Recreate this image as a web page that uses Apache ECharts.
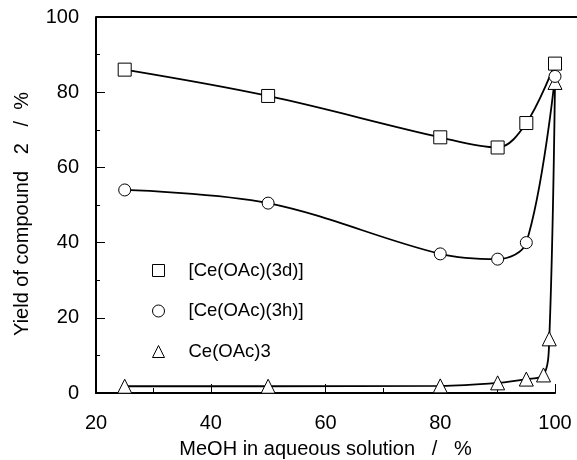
<!DOCTYPE html>
<html>
<head>
<meta charset="utf-8">
<script src="https://cdn.jsdelivr.net/npm/echarts@6/dist/echarts.min.js"></script>
<style>html,body{margin:0;padding:0;background:#fff}#c{width:577px;height:460px}</style>
</head>
<body>
<div id="c"></div>
<script>
// Data
const xTicks = [20, 40, 60, 80, 100];
const yTicks = [0, 20, 40, 60, 80, 100];

const seriesNames = ['[Ce(OAc)(3d)]', '[Ce(OAc)(3h)]', 'Ce(OAc)3'];

const x3d = [25, 50, 80, 90, 95, 100];
const y3d = [86, 79, 68, 65.3, 71.8, 87.6];

const x3h = [25, 50, 80, 90, 95, 100];
const y3h = [54, 50.5, 37, 35.6, 40, 84.2];

const xCe = [25, 50, 80, 90, 95, 98, 99, 100];
const yCe = [1.8, 1.8, 1.9, 2.7, 3.7, 4.8, 14.4, 82.6];

const zip = (xs, ys) => xs.map((x, i) => [x, ys[i]]);

const chart = echarts.init(document.getElementById('c'), null, {renderer: 'canvas'});
const FONT = 'Liberation Sans';

function lineSeries(name, data, symbol, size) {
  return {
    name: name,
    type: 'line',
    data: data,
    smooth: 0.35,
    symbol: symbol,
    symbolSize: size,
    showAllSymbol: true,
    lineStyle: {color: '#000', width: 1.8},
    itemStyle: {color: '#fff', borderColor: '#000', borderWidth: 1},
    emphasis: {disabled: true},
    animation: false
  };
}

chart.setOption({
  animation: false,
  backgroundColor: '#fff',
  grid: {left: 96, top: 17, right: 22, bottom: 67, containLabel: false, outerBoundsMode: 'none'},
  xAxis: {
    type: 'value',
    min: xTicks[0], max: xTicks[xTicks.length - 1], interval: 20,
    name: 'MeOH in aqueous solution   /   %',
    nameLocation: 'middle',
    nameGap: 46,
    nameTextStyle: {fontFamily: FONT, fontSize: 20, color: '#000'},
    axisLine: {lineStyle: {color: '#000', width: 2}},
    axisTick: {inside: true, length: 9, lineStyle: {color: '#000', width: 1}},
    minorTick: {show: true, splitNumber: 2, length: 5, lineStyle: {color: '#000', width: 1}},
    axisLabel: {fontFamily: FONT, fontSize: 20, color: '#000', margin: 20},
    splitLine: {show: false}
  },
  yAxis: {
    type: 'value',
    min: yTicks[0], max: yTicks[yTicks.length - 1], interval: 20,
    name: 'Yield of compound   2   /  %',
    nameLocation: 'middle',
    nameGap: 64,
    nameRotate: 90,
    nameTextStyle: {fontFamily: FONT, fontSize: 20, color: '#000', padding: [0, 18, 0, 0]},
    axisLine: {show: true, lineStyle: {color: '#000', width: 2}},
    axisTick: {show: true, inside: true, length: 9, lineStyle: {color: '#000', width: 1}},
    minorTick: {show: true, splitNumber: 2, length: 4, lineStyle: {color: '#000', width: 1}},
    axisLabel: {fontFamily: FONT, fontSize: 20, color: '#000', margin: 17},
    splitLine: {show: false}
  },
  legend: {
    orient: 'vertical',
    left: 152,
    top: 261,
    padding: 0,
    itemWidth: 12,
    itemHeight: 12,
    itemGap: 21.5,
    selectedMode: false,
    itemStyle: {color: '#fff', borderColor: '#000', borderWidth: 1},
    textStyle: {fontFamily: FONT, fontSize: 18.5, color: '#000', padding: [0, 0, 0, 19]},
    data: [
      {name: seriesNames[0], icon: 'rect'},
      {name: seriesNames[1], icon: 'circle'},
      {name: seriesNames[2], icon: 'triangle'}
    ]
  },
  series: [
    lineSeries(seriesNames[2], zip(xCe, yCe), 'triangle', 14),
    lineSeries(seriesNames[1], zip(x3h, y3h), 'circle', 12),
    lineSeries(seriesNames[0], zip(x3d, y3d), 'rect', 13)
  ]
});

// extend the top frame line to the right edge, as in the reference
const pTop = chart.convertToPixel({gridIndex: 0}, [xTicks[0], yTicks[yTicks.length - 1]]);
chart.setOption({
  graphic: [{
    type: 'line',
    shape: {x1: pTop[0], y1: pTop[1], x2: 577, y2: pTop[1]},
    style: {stroke: '#000', lineWidth: 2},
    silent: true
  }]
});
</script>
</body>
</html>
